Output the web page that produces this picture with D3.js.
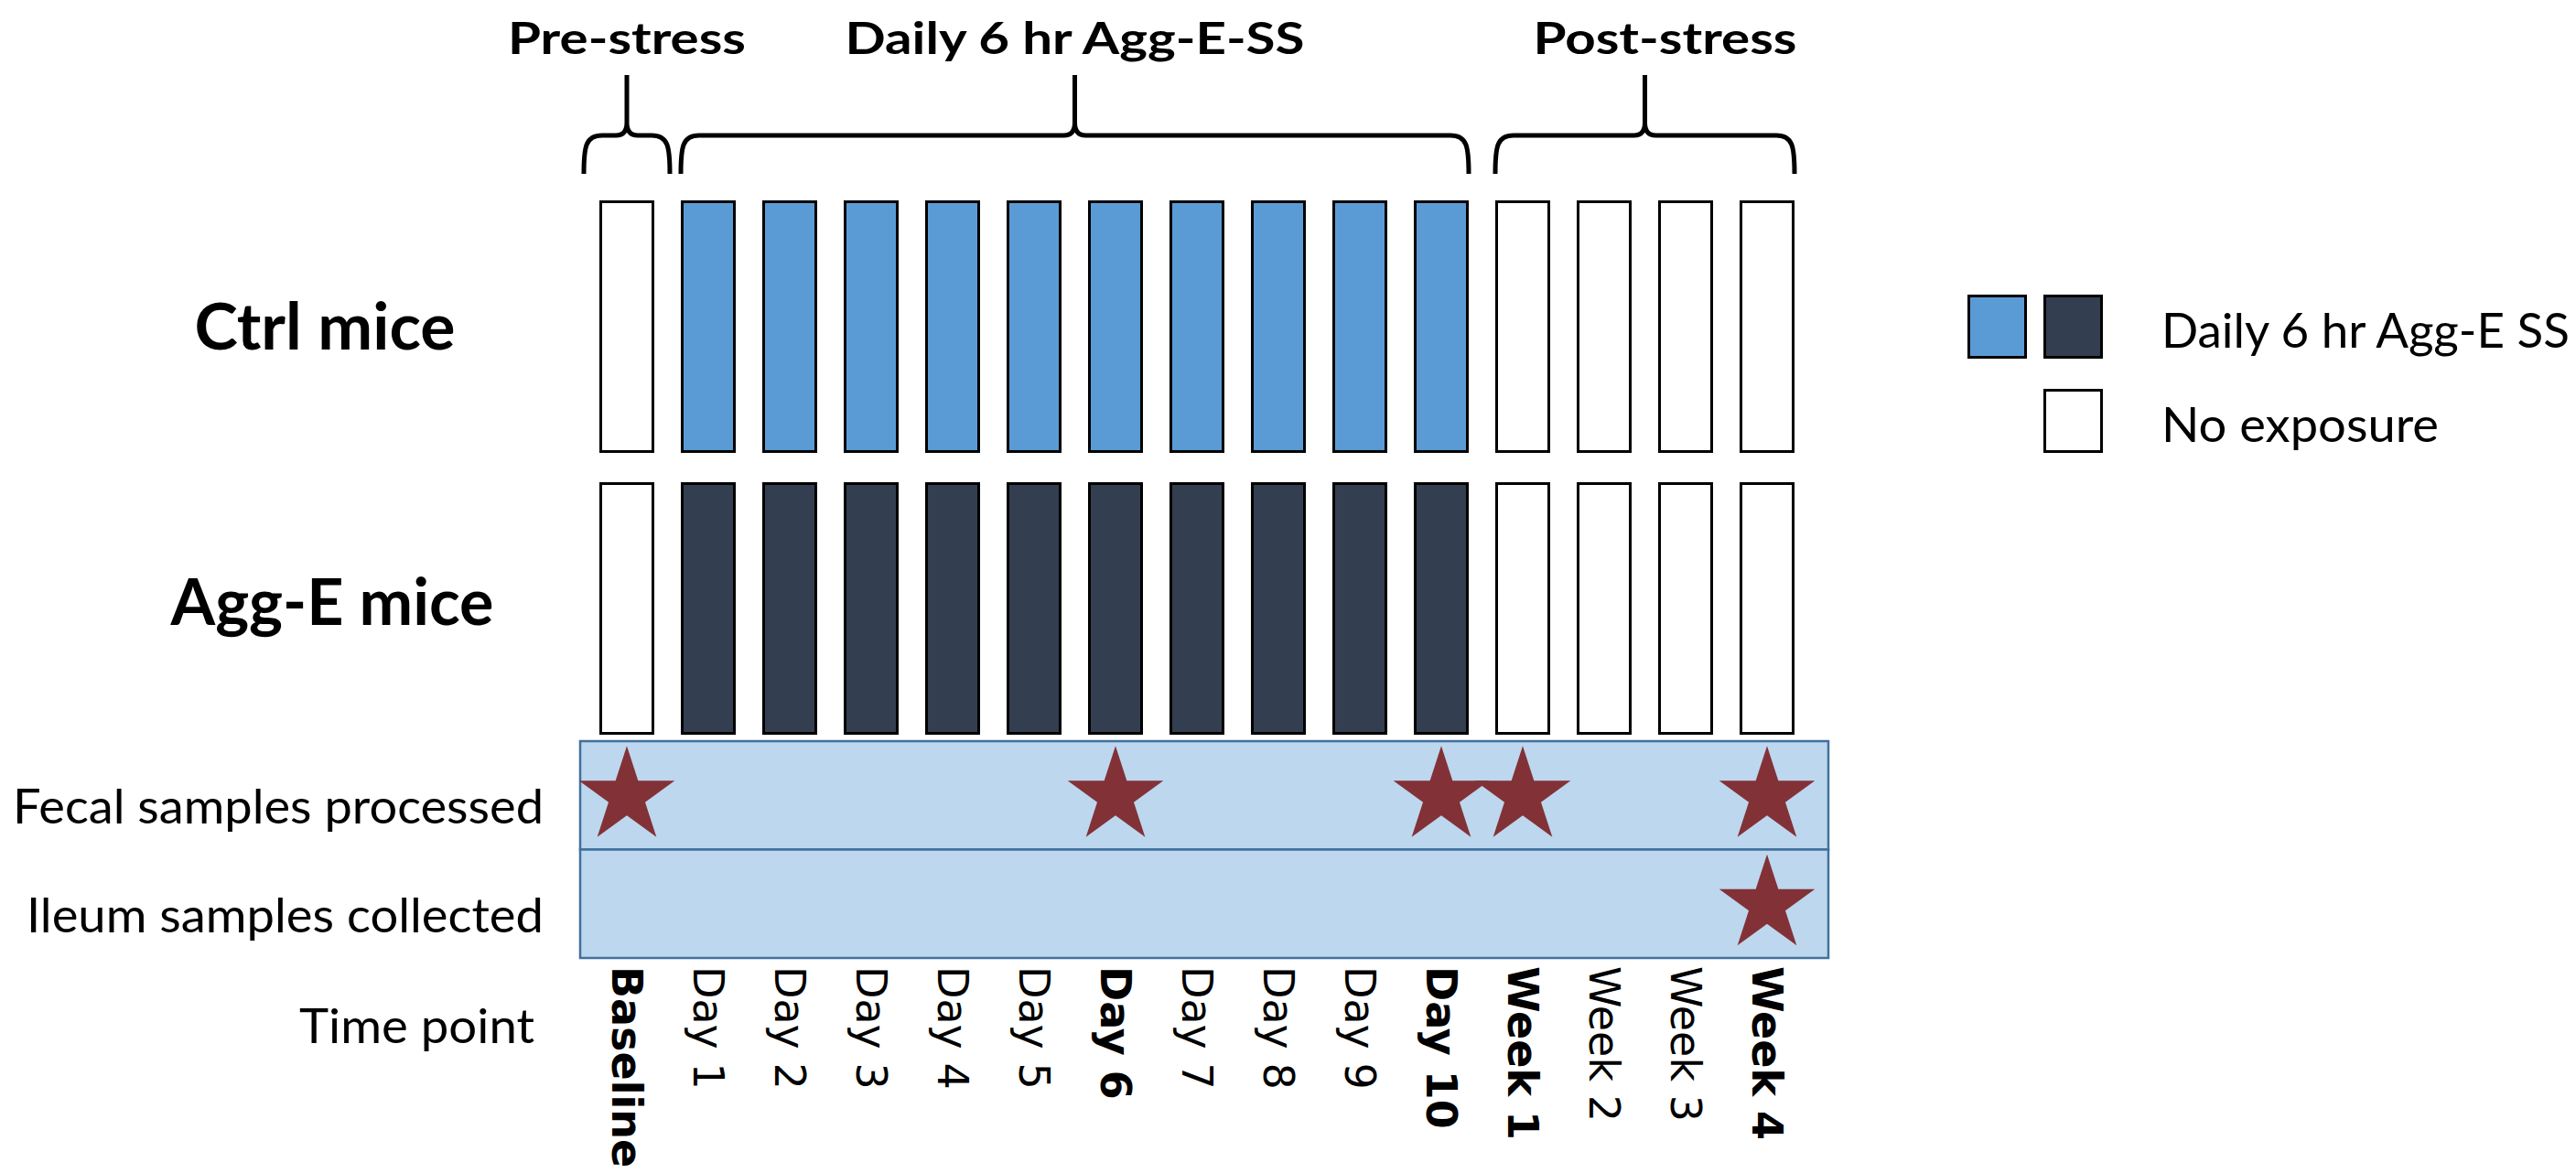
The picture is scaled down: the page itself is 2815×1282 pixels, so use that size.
<!DOCTYPE html>
<html>
<head>
<meta charset="utf-8">
<script src="https://cdn.jsdelivr.net/npm/d3@7"></script>
<style>
  html, body { margin: 0; padding: 0; background: #fff; }
  svg { display: block; }
</style>
</head>
<body>
<div id="chart"></div>
<script>
// ---------------- data ----------------
const timePoints = ['Baseline', 'Day 1', 'Day 2', 'Day 3', 'Day 4', 'Day 5', 'Day 6', 'Day 7',
  'Day 8', 'Day 9', 'Day 10', 'Week 1', 'Week 2', 'Week 3', 'Week 4'];
const groups = ['Ctrl mice', 'Agg-E mice'];
// 1 = daily 6 hr Agg-E SS exposure, 0 = no exposure
const ctrlExposure = [0, 1, 1, 1, 1, 1, 1, 1, 1, 1, 1, 0, 0, 0, 0];
const aggExposure  = [0, 1, 1, 1, 1, 1, 1, 1, 1, 1, 1, 0, 0, 0, 0];
const groupColors = ['#5B9BD5', '#333F50'];

const phaseLabels = ['Pre-stress', 'Daily 6 hr Agg-E-SS', 'Post-stress'];
const phaseStart = ['Baseline', 'Day 1', 'Week 1'];
const phaseEnd = ['Baseline', 'Day 10', 'Week 4'];

const samples = ['Fecal samples processed', 'Ileum samples collected'];
const fecalPoints = ['Baseline', 'Day 6', 'Day 10', 'Week 1', 'Week 4'];
const ileumPoints = ['Week 4'];
const boldPoints = ['Baseline', 'Day 6', 'Day 10', 'Week 1', 'Week 4'];

const legendLabels = ['Daily 6 hr Agg-E SS', 'No exposure'];
const legendFills = [['#5B9BD5', '#333F50'], ['#FFFFFF']];

// ---------------- setup ----------------
const width = 2815;
const height = 1282;
const calibri = 'Lato, Carlito, Calibri, sans-serif';

const svg = d3.select('#chart').append('svg')
  .attr('width', width)
  .attr('height', height);

svg.append('rect').attr('width', width).attr('height', height).attr('fill', '#fff');

const x = d3.scaleBand()
  .domain(timePoints)
  .range([655, 1961])
  .paddingInner(0.3258)
  .paddingOuter(0);

const yGroup = d3.scaleBand()
  .domain(groups)
  .range([219, 803])
  .paddingInner(0.104);

const ySample = d3.scaleBand()
  .domain(samples)
  .range([810, 1047]);

const exposure = [ctrlExposure, aggExposure];

// ---------------- braces + phase titles ----------------
function bracePath(x0, x1, xm, yB, yM, yT) {
  return `M${x0},${yB} C${x0},${yM + 12} ${x0 + 2},${yM} ${x0 + 20},${yM}`
    + ` L${xm - 12},${yM} Q${xm},${yM} ${xm},${yM - 14} L${xm},${yT}`
    + ` M${xm},${yM - 14} Q${xm},${yM} ${xm + 12},${yM}`
    + ` L${x1 - 20},${yM} C${x1 - 2},${yM} ${x1},${yM + 12} ${x1},${yB}`;
}

const headerWidths = [260, 502, 288];
const phaseG = svg.append('g').attr('class', 'phases');
phaseLabels.forEach((label, i) => {
  const single = phaseStart[i] === phaseEnd[i];
  const pad = single ? 17 : 0;
  const x0 = x(phaseStart[i]) - pad;
  const x1 = x(phaseEnd[i]) + x.bandwidth() + pad;
  const xm = (x0 + x1) / 2;
  phaseG.append('path')
    .attr('d', bracePath(x0, x1, xm, 190, 148, 82))
    .attr('fill', 'none')
    .attr('stroke', '#000')
    .attr('stroke-width', 5);
  phaseG.append('text')
    .attr('x', xm + (i === 2 ? 22 : 0))
    .attr('y', 59)
    .attr('text-anchor', 'middle')
    .attr('font-family', calibri)
    .attr('font-weight', 'bold')
    .attr('font-size', 47)
    .attr('textLength', headerWidths[i])
    .attr('lengthAdjust', 'spacingAndGlyphs')
    .text(label);
});

// ---------------- exposure bars ----------------
const barG = svg.append('g').attr('class', 'bars');
groups.forEach((g, gi) => {
  barG.selectAll(`rect.g${gi}`)
    .data(timePoints)
    .join('rect')
    .attr('class', `g${gi}`)
    .attr('x', d => x(d) + 1.5)
    .attr('y', yGroup(g) + 1.5)
    .attr('width', x.bandwidth() - 3)
    .attr('height', yGroup.bandwidth() - 3)
    .attr('fill', (d, i) => exposure[gi][i] ? groupColors[gi] : '#fff')
    .attr('stroke', '#000')
    .attr('stroke-width', 3);
});

const groupWidths = [285, 353];
const groupCx = [355, 363];
const groupDy = [25, 18];
svg.append('g').selectAll('text')
  .data(groups)
  .join('text')
  .attr('x', (d, i) => groupCx[i])
  .attr('y', (d, i) => yGroup(d) + yGroup.bandwidth() / 2 + groupDy[i])
  .attr('text-anchor', 'middle')
  .attr('font-family', calibri)
  .attr('font-weight', 'bold')
  .attr('font-size', 70)
  .attr('textLength', (d, i) => groupWidths[i])
  .attr('lengthAdjust', 'spacingAndGlyphs')
  .text(d => d);

// ---------------- sample table ----------------
const sampleG = svg.append('g').attr('class', 'samples');
sampleG.selectAll('rect')
  .data(samples)
  .join('rect')
  .attr('x', 634)
  .attr('y', d => ySample(d))
  .attr('width', 1998 - 634)
  .attr('height', ySample.bandwidth())
  .attr('fill', '#BDD7EE')
  .attr('stroke', '#41719C')
  .attr('stroke-width', 2.5);

const samplePoints = [fecalPoints, ileumPoints];
const star = d3.symbol().type(d3.symbolStar).size(55 * 55 / 0.8908130915292852);
samples.forEach((s, si) => {
  sampleG.selectAll(`path.s${si}`)
    .data(samplePoints[si])
    .join('path')
    .attr('class', `s${si}`)
    .attr('d', star)
    .attr('transform', d => `translate(${x(d) + x.bandwidth() / 2},${ySample(s) + ySample.bandwidth() / 2 + 1})`)
    .attr('fill', '#823237');
});

const sampleWidths = [580, 565];
sampleG.selectAll('text')
  .data(samples)
  .join('text')
  .attr('x', 594)
  .attr('y', d => ySample(d) + ySample.bandwidth() / 2 + 31)
  .attr('text-anchor', 'end')
  .attr('font-family', calibri)
  .attr('font-size', 53)
  .attr('textLength', (d, i) => sampleWidths[i])
  .attr('lengthAdjust', 'spacingAndGlyphs')
  .text(d => d);

svg.append('text')
  .attr('x', 584)
  .attr('y', 1140)
  .attr('text-anchor', 'end')
  .attr('font-family', calibri)
  .attr('font-size', 53)
  .attr('textLength', 257)
  .attr('lengthAdjust', 'spacingAndGlyphs')
  .text('Time point');

// ---------------- time point labels ----------------
svg.append('g').attr('class', 'timeLabels')
  .selectAll('text')
  .data(timePoints)
  .join('text')
  .attr('transform', d => `translate(${x(d) + x.bandwidth() / 2},1056) rotate(90)`)
  .attr('dy', '0.35em')
  .attr('font-family', '"DejaVu Sans", Verdana, sans-serif')
  .attr('font-size', 46)
  .attr('font-weight', d => boldPoints.includes(d) ? 'bold' : 'normal')
  .text(d => d);

// ---------------- legend ----------------
const legendG = svg.append('g').attr('class', 'legend');
legendLabels.forEach((label, i) => {
  const y0 = 322 + i * 103;
  const fills = legendFills[i];
  fills.forEach((f, j) => {
    const k = fills.length - 1 - j;
    legendG.append('rect')
      .attr('x', 2233 - k * 83 + 1.5)
      .attr('y', y0 + 1.5)
      .attr('width', 62)
      .attr('height', 67)
      .attr('fill', f)
      .attr('stroke', '#000')
      .attr('stroke-width', 3);
  });
  legendG.append('text')
    .attr('x', 2362)
    .attr('y', y0 + 58)
    .attr('font-family', calibri)
    .attr('font-size', 53)
    .attr('textLength', i === 0 ? 446 : 303)
    .attr('lengthAdjust', 'spacingAndGlyphs')
    .text(label);
});
</script>
</body>
</html>
